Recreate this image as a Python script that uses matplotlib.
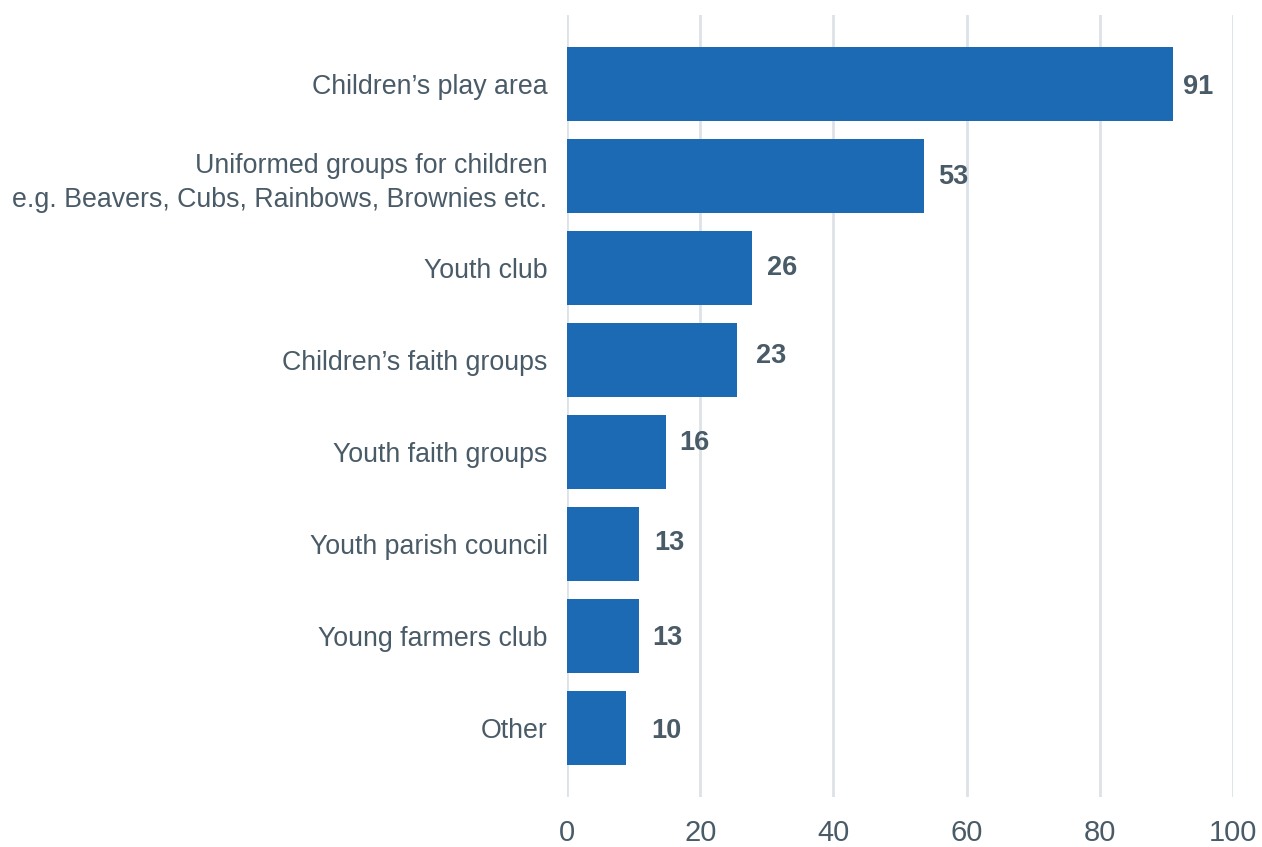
import matplotlib
matplotlib.use("Agg")
import matplotlib.pyplot as plt
from matplotlib.transforms import offset_copy

categories = [
    "Children\u2019s play area",
    "Uniformed groups for children\ne.g. Beavers, Cubs, Rainbows, Brownies etc.",
    "Youth club",
    "Children\u2019s faith groups",
    "Youth faith groups",
    "Youth parish council",
    "Young farmers club",
    "Other",
]
bar_values = [91.0, 53.6, 27.8, 25.5, 14.8, 10.8, 10.8, 8.8]
label_values = [91, 53, 26, 23, 16, 13, 13, 10]
x_ticks = [0, 20, 40, 60, 80, 100]

# label offsets in pixels (dx, dy) -- styling only
label_dx = [10, 14, 15, 19, 14, 15, 13, 26]
label_dy = [-3, -1, 0, 4, 9, 1, -2, -3]

BAR = "#1c69b4"
TXT = "#4a5b68"
GRID = "#dde2e8"

plt.rcParams['font.family'] = ['Liberation Sans', 'DejaVu Sans']

fig = plt.figure(figsize=(12.62, 8.47), dpi=100)
ax = fig.add_axes([567/1262, 1-797/847, (1233-567)/1262, (797-15)/847])

y = list(range(len(categories)))
ax.barh(y, bar_values, height=0.8, color=BAR, zorder=2)
ax.set_ylim(len(categories) - 0.25, -0.75)
ax.set_xlim(0, 100)
ax.set_xticks(x_ticks)
ax.set_xticklabels([str(t) for t in x_ticks], fontsize=21, color=TXT)
ax.set_yticks(y)
ax.set_yticklabels(categories, fontsize=19.3, color=TXT, linespacing=1.38)
ax.tick_params(axis='x', length=0, pad=16)
ax.tick_params(axis='y', length=0, pad=14)
ax.grid(axis='x', color=GRID, linewidth=2, zorder=0)
for s in ax.spines.values():
    s.set_visible(False)

for i, (bv, lv) in enumerate(zip(bar_values, label_values)):
    tr = offset_copy(ax.transData, fig=fig, x=label_dx[i], y=label_dy[i], units='dots')
    ax.text(bv, i, str(lv), transform=tr, ha='left', va='center',
            fontsize=19.5, fontweight='bold', color=TXT)

fig.savefig("out.png", dpi=100)
